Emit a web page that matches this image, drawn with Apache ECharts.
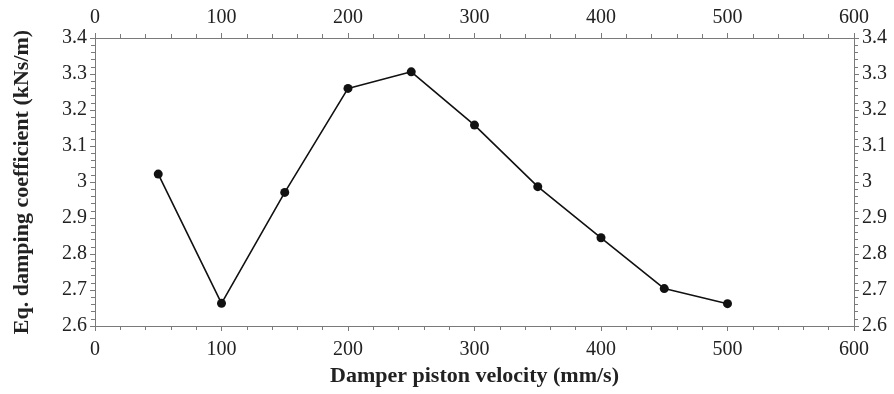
<!DOCTYPE html>
<html><head><meta charset="utf-8">
<script src="https://cdn.jsdelivr.net/npm/echarts@6/dist/echarts.min.js"></script>
<style>html,body{margin:0;padding:0;background:#fff}#c{width:894px;height:394px}</style>
</head><body><div id="c"></div>
<script>
const velocity = [50, 100, 150, 200, 250, 300, 350, 400, 450, 500];
const dampingCoeff = [3.022, 2.663, 2.971, 3.260, 3.306, 3.158, 2.987, 2.845, 2.704, 2.662];
const xTitle = 'Damper piston velocity (mm/s)';
const yTitle = 'Eq. damping coefficient (kNs/m)';

const axisColor = '#7a7a7a';
const font = 'Liberation Serif';
const labelStyle = {color: '#222', fontFamily: font, fontSize: 20};
function xAx(pos, withName, margin) {
  return {
    type: 'value', position: pos, min: 0, max: 600, interval: 100,
    axisLine: {show: true, onZero: false, lineStyle: {color: axisColor, width: 1}},
    axisTick: {show: true, length: 5, lineStyle: {color: axisColor}},
    minorTick: {show: true, splitNumber: 5, length: 4, lineStyle: {color: axisColor}},
    splitLine: {show: false},
    axisLabel: Object.assign({margin: margin}, labelStyle),
    name: withName ? xTitle : '', nameLocation: 'middle', nameGap: 34,
    nameTextStyle: {fontFamily: font, fontSize: 22, fontWeight: 'bold', color: '#222'}
  };
}
function yAx(pos, withName) {
  return {
    type: 'value', position: pos, min: 2.6, max: 3.4, interval: 0.1,
    axisLine: {show: true, onZero: false, lineStyle: {color: axisColor, width: 1}},
    axisTick: {show: true, length: 5, lineStyle: {color: axisColor}},
    minorTick: {show: true, splitNumber: 5, length: 4, lineStyle: {color: axisColor}},
    splitLine: {show: false},
    axisLabel: Object.assign({margin: 8, formatter: v => String(+v.toFixed(1))}, labelStyle),
    name: withName ? yTitle : '', nameLocation: 'middle', nameGap: 62,
    nameTextStyle: {fontFamily: font, fontSize: 22, fontWeight: 'bold', color: '#222'}
  };
}
const chart = echarts.init(document.getElementById('c'), null, {renderer: 'canvas'});
chart.setOption({
  backgroundColor: '#fff',
  animation: false,
  grid: {left: 95, right: 40, top: 38, bottom: 68, containLabel: false},
  xAxis: [xAx('bottom', true, 14), xAx('top', false, 10)],
  yAxis: [yAx('left', true), yAx('right', false)],
  series: [{
    type: 'line', xAxisIndex: 0, yAxisIndex: 0,
    data: velocity.map((v, i) => [v, dampingCoeff[i]]),
    symbol: 'circle', symbolSize: 9,
    lineStyle: {color: '#111', width: 1.6},
    itemStyle: {color: '#111'}
  }]
});
</script></body></html>
